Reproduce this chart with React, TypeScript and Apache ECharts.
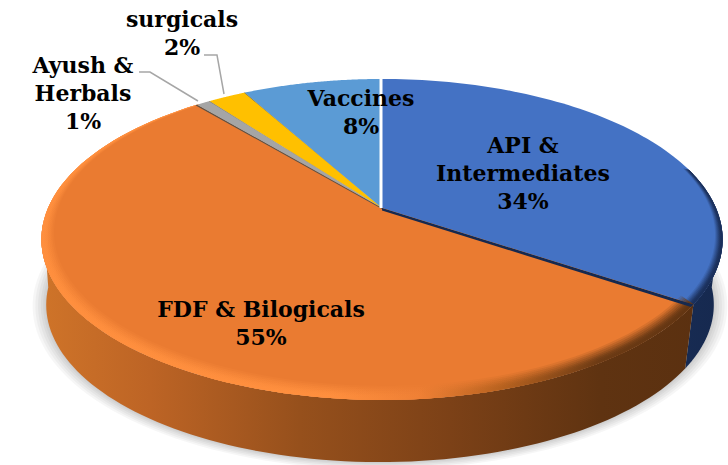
import React, { useEffect, useRef } from "react";
import * as echarts from "echarts";

const categories = ["API &\nIntermediates", "FDF & Bilogicals", "Ayush &\nHerbals", "surgicals", "Vaccines"];
const shares = [34.4, 54.6, 0.8, 2.2, 8];
const topColors = ["#4472C4", "#EA7B31", "#A5A5A5", "#FFC000", "#5B9BD5"];

// Perspective disc geometry
const CX = 382, CY = 208, RX = 334, RY = 154.3, K = 0.196;
const DEPTH = 66, BOTTOM_SCALE = 0.98, BOTTOM_DX = -2;
const FRONT_START = 95, FRONT_END = 265;

const labelCenters = [[523, 173], [261, 323], [361, 112], [182, 33], [83, 93]];
const labelOrder = [0, 1, 4, 3, 2];
const leaders = [
  { index: 3, pts: [[204, 55], [217, 55], [224, 94]] },
  { index: 2, pts: [[139, 72], [150, 72], [198, 101]] },
];

const total = shares.reduce((a, b) => a + b, 0);
const startDeg = (i: number) => (shares.slice(0, i).reduce((a, b) => a + b, 0) / total) * 360;
const endDeg = (i: number) => startDeg(i + 1);

const proj = (u: number, v: number, s = 1, dy = 0, dx = 0) => {
  const w = 1 + K * v;
  return [CX + dx + (s * RX * u) / w, CY + dy - (s * RY * v) / w];
};
const rad = (d: number) => (d * Math.PI) / 180;
const rim = (d: number) => proj(Math.sin(rad(d)), Math.cos(rad(d)));
const lower = (d: number, grow = 0) =>
  proj(Math.sin(rad(d)), Math.cos(rad(d)), BOTTOM_SCALE + grow, DEPTH, BOTTOM_DX);
const inner = (d: number, t: number) => {
  const r = 1 - 0.03 * t;
  return proj(r * Math.sin(rad(d)), 0.03 * t + r * Math.cos(rad(d)));
};
const steps = (a: number, b: number, n = 90) =>
  Array.from({ length: n + 1 }, (_, i) => a + ((b - a) * i) / n);

const grad = (stops: [number, string][]) =>
  new echarts.graphic.LinearGradient(
    39, 0, 720, 0,
    stops.map(([x, color]) => ({ offset: (x - 39) / 681, color })),
    true
  );

const sideStops: [number, string][][] = [
  [[600, "#1a2f5a"], [720, "#16294f"]],
  [[39, "#cf7429"], [150, "#bd6425"], [300, "#96501c"], [450, "#7c4117"], [600, "#5f3311"], [720, "#5a3010"]],
];
const bevelStops: [number, string][][] = [
  [[600, "#1a2f5a"], [720, "#1a2f5a"]],
  [[39, "#ff8f3e"], [330, "#ff8f3e"], [420, "#ef8035"], [500, "#b8621f"], [600, "#6b3a14"], [720, "#5f3311"]],
];
const edgeWedges = [
  { deg: 0.9, start: 2.5, color: "#16294f" },
  { deg: -0.4, start: 1, color: "#5a5148" },
  { deg: -0.1, start: 0, color: "#6b6b5a" },
  { deg: -0.12, start: 0, color: "#5b6b70" },
  { deg: 0, start: 0, color: "#ffffff" },
];
const shadowLayers = [0.04, 0.032, 0.024, 0.016, 0.009, 0.003];
const bevelWidths = [1, 0.87, 0.75, 0.62, 0.5, 0.4, 0.3, 0.2];
const bevelAlphas = [0.15, 0.2, 0.25, 0.3, 0.4, 0.5, 0.6, 0.8];

function sideItem(params: any) {
  const i = params.dataIndex;
  const children: any[] = [];
  if (i === 0) {
    shadowLayers.forEach((g) => {
      children.push({
        type: "polygon",
        shape: { points: steps(0, 360, 180).map((d) => lower(d, g)) },
        style: { fill: "#000000", opacity: 0.035 },
      });
    });
  }
  const a = Math.max(startDeg(i), FRONT_START);
  const b = Math.min(endDeg(i), FRONT_END);
  if (b > a) {
    const ds = steps(a, b);
    children.push({
      type: "polygon",
      shape: {
        points: [...ds.map((d) => rim(d)), ...ds.slice().reverse().map((d) => lower(d))],
      },
      style: { fill: grad(sideStops[i]) },
    });
  }
  return { type: "group", children };
}

function topItem(params: any) {
  const i = params.dataIndex;
  const a = startDeg(i);
  const b = endDeg(i);
  const ds = steps(a, b);
  const children: any[] = [
    {
      type: "polygon",
      shape: { points: [[CX, CY], ...ds.map((d) => rim(d))] },
      style: { fill: topColors[i] },
    },
  ];
  if (bevelStops[i]) {
    const widthScale = i === 0 ? 0.6 : 1;
    const fa = i === 0 ? 75 : a;
    const rimDs = steps(fa, b);
    bevelWidths.forEach((t, k) => {
      children.push({
        type: "polygon",
        shape: {
          points: [
            ...rimDs.map((d) => rim(d)),
            ...rimDs.slice().reverse().map((d) => inner(d, t * widthScale)),
          ],
        },
        style: { fill: grad(bevelStops[i]), opacity: bevelAlphas[k] },
      });
    });
  }
  return { type: "group", children };
}

function edgeItem(params: any) {
  const i = params.dataIndex;
  const e = endDeg(i);
  const w = edgeWedges[i];
  if (w.deg === 0) {
    return {
      type: "line",
      shape: { x1: CX - 1, y1: CY, x2: CX - 1, y2: rim(0)[1] },
      style: { stroke: w.color, lineWidth: 3 },
    };
  }
  return {
    type: "polygon",
    shape: { points: [[CX, CY], rim(e), rim(e + w.deg), [CX, CY + w.start]] },
    style: { fill: w.color },
  };
}

function labelItem(params: any) {
  const i = labelOrder[params.dataIndex];
  const [x, y] = labelCenters[params.dataIndex];
  return {
    type: "text",
    style: {
      x,
      y,
      text: `${categories[i]}\n${Math.round(shares[i])}%`,
      align: "center",
      verticalAlign: "middle",
      fontFamily: '"DejaVu Serif"',
      fontWeight: "bold",
      fontSize: 22,
      lineHeight: 28,
      fill: "#000000",
    },
  };
}

function leaderItem(params: any) {
  return {
    type: "polyline",
    shape: { points: leaders[params.dataIndex].pts },
    style: { stroke: "#A6A6A6", lineWidth: 1.5, fill: "none" },
  };
}

export default function App() {
  const ref = useRef<HTMLDivElement>(null);
  useEffect(() => {
    document.body.style.margin = "0";
    const chart = echarts.init(ref.current!, undefined, { renderer: "svg" });
    const base = { type: "custom", coordinateSystem: "none", silent: true, clip: false };
    chart.setOption({
      animation: false,
      backgroundColor: "#ffffff",
      series: [
        { ...base, name: "sides", data: shares, renderItem: sideItem },
        { ...base, name: "tops", data: shares, renderItem: topItem },
        { ...base, name: "edges", data: shares, renderItem: edgeItem },
        { ...base, name: "leaders", data: leaders.map((l) => shares[l.index]), renderItem: leaderItem },
        { ...base, name: "labels", data: labelOrder.map((i) => shares[i]), renderItem: labelItem },
      ],
    });
    return () => chart.dispose();
  }, []);
  return <div ref={ref} style={{ width: 728, height: 465 }} />;
}
